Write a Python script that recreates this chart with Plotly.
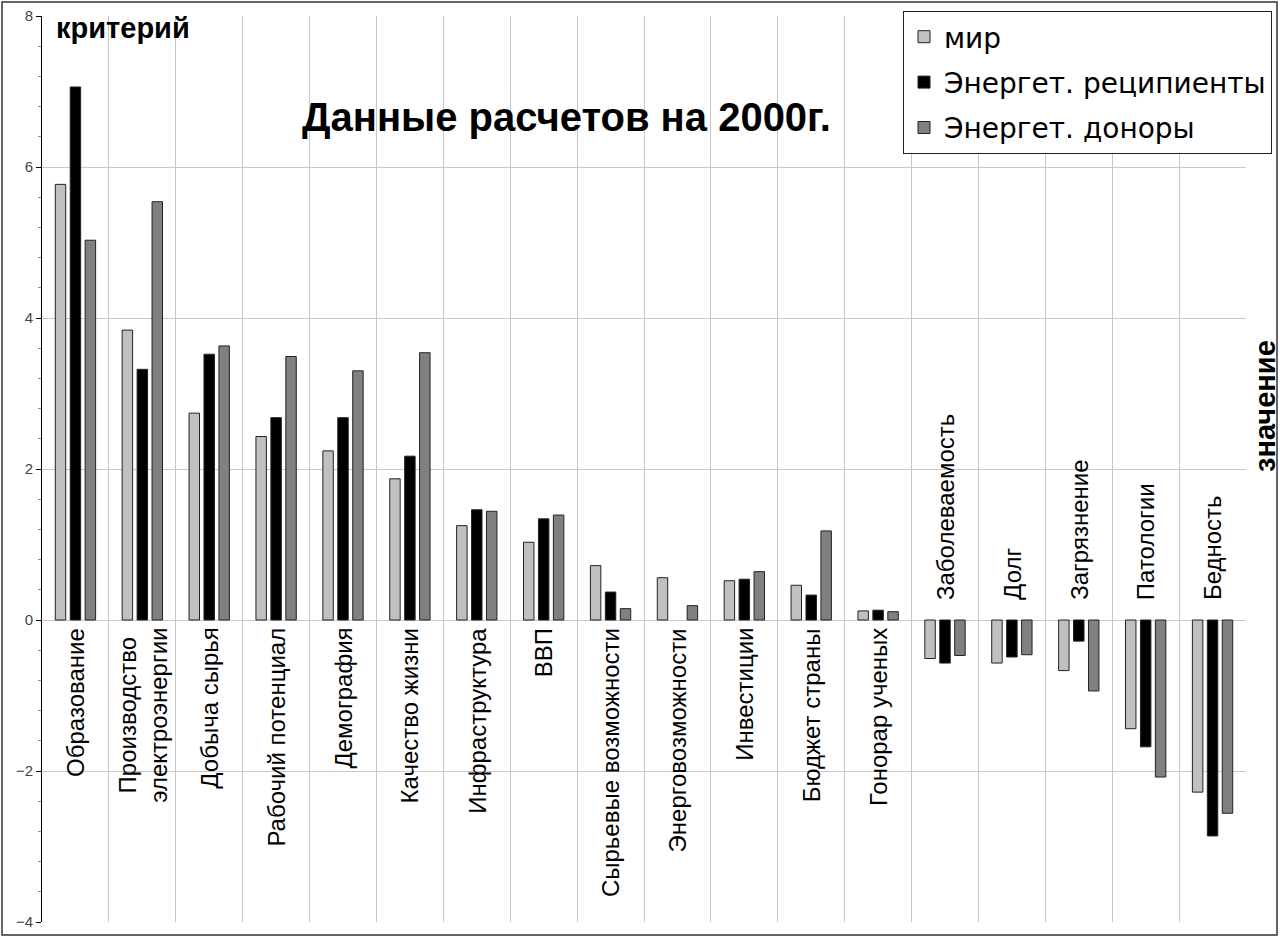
import plotly.graph_objects as go

categories = [
    "Образование", "Производство<br>электроэнергии", "Добыча сырья", "Рабочий потенциал",
    "Демография", "Качество жизни", "Инфраструктура", "ВВП",
    "Сырьевые возможности", "Энерговозможности", "Инвестиции", "Бюджет страны",
    "Гонорар ученых", "Заболеваемость", "Долг", "Загрязнение", "Патологии", "Бедность",
]
series_names = ["мир", "Энергет. реципиенты", "Энергет. доноры"]
world = [5.77, 3.84, 2.74, 2.43, 2.24, 1.87, 1.25, 1.03, 0.72, 0.56, 0.52, 0.46, 0.12,
         -0.51, -0.57, -0.67, -1.44, -2.28]
recipients = [7.06, 3.32, 3.52, 2.68, 2.68, 2.17, 1.46, 1.34, 0.37, None, 0.54, 0.33, 0.13,
              -0.57, -0.49, -0.28, -1.68, -2.86]
donors = [5.03, 5.54, 3.63, 3.49, 3.30, 3.54, 1.44, 1.39, 0.15, 0.19, 0.64, 1.18, 0.11,
          -0.47, -0.46, -0.94, -2.08, -2.56]
y_ticks = [-4, -2, 0, 2, 4, 6, 8]

title_text = "Данные расчетов на 2000г."
y_title = "критерий"
x_title = "значение"

colors = ["#c0c0c0", "#000000", "#808080"]
W, H = 1280, 938
L, R, T, B = 42, 34, 16, 16

fig = go.Figure()
for i, (name, vals) in enumerate(zip(series_names, [world, recipients, donors])):
    fig.add_trace(go.Bar(
        x=categories, y=vals, name=name, legendgroup=name,
        marker=dict(color=colors[i], line=dict(color="#222222", width=1)),
    ))

# category labels
for j, cat in enumerate(categories):
    vals = [v for v in (world[j], recipients[j], donors[j]) if v is not None]
    if max(vals) > 0:
        fig.add_annotation(x=cat, y=0, text=cat, textangle=-90, showarrow=False,
                           yanchor="top", yshift=-6, xanchor="center",
                           font=dict(family="Liberation Sans", size=24, color="#000"))
    else:
        fig.add_annotation(x=cat, y=0, text=cat, textangle=-90, showarrow=False,
                           yanchor="bottom", yshift=18, xanchor="center",
                           font=dict(family="Liberation Sans", size=24, color="#000"))

pw = W - L - R
ph = H - T - B
def px(x):
    return (x - L) / pw
def py(y):
    return (H - B - y) / ph

fig.add_annotation(x=px(566), y=py(117), xref="paper", yref="paper", text="<b>" + title_text + "</b>",
                   showarrow=False, xanchor="center", yanchor="middle",
                   font=dict(family="Liberation Sans", size=40, color="#000"))
fig.add_annotation(x=px(54), y=py(28), xref="paper", yref="paper", text="<b>" + y_title + "</b>",
                   showarrow=False, xanchor="left", yanchor="middle",
                   font=dict(family="Liberation Sans", size=29, color="#000"))
fig.add_annotation(x=px(1265), y=py(406), xref="paper", yref="paper", text="<b>" + x_title + "</b>",
                   textangle=-90, showarrow=False, xanchor="center", yanchor="middle",
                   font=dict(family="Liberation Sans", size=29, color="#000"))

# outer frame
fig.add_shape(type="rect", xref="paper", yref="paper",
              x0=px(2), x1=px(1277), y0=py(935), y1=py(2),
              line=dict(color="#333333", width=1.5), fillcolor="rgba(0,0,0,0)", layer="above")

fig.update_layout(
    width=W, height=H,
    margin=dict(l=L, r=R, t=T, b=B, pad=0, autoexpand=False),
    paper_bgcolor="white", plot_bgcolor="white",
    barmode="group", bargap=0.33, bargroupgap=0.3,
    showlegend=True,
    legend=dict(x=px(903), y=py(11), xanchor="left", yanchor="top",
                bgcolor="white", bordercolor="#222222", borderwidth=1,
                font=dict(family="DejaVu Sans", size=28, color="#000"),
                tracegroupgap=6, itemwidth=30),
    xaxis=dict(type="category", showticklabels=False, ticks="", tickson="boundaries",
               showgrid=True, gridcolor="#c8c8c8", gridwidth=1, zeroline=False,
               showline=False, mirror=False, range=[-0.5, len(categories) - 0.5]),
    yaxis=dict(range=[-4, 8], tickvals=y_ticks, ticks="outside", ticklen=5, tickcolor="#000",
               showline=True, linecolor="#000", linewidth=1,
               showgrid=True, gridcolor="#c8c8c8", gridwidth=1, zeroline=False,
               tickfont=dict(family="Liberation Sans", size=15, color="#444"),
               minor=dict(dtick=0.4, tick0=0, ticks="outside", ticklen=3, tickcolor="#888", showgrid=False)),
)

fig.write_html("out.html", config={"displayModeBar": False},
               post_script="document.body.style.margin='0';document.body.style.overflow='hidden';")
